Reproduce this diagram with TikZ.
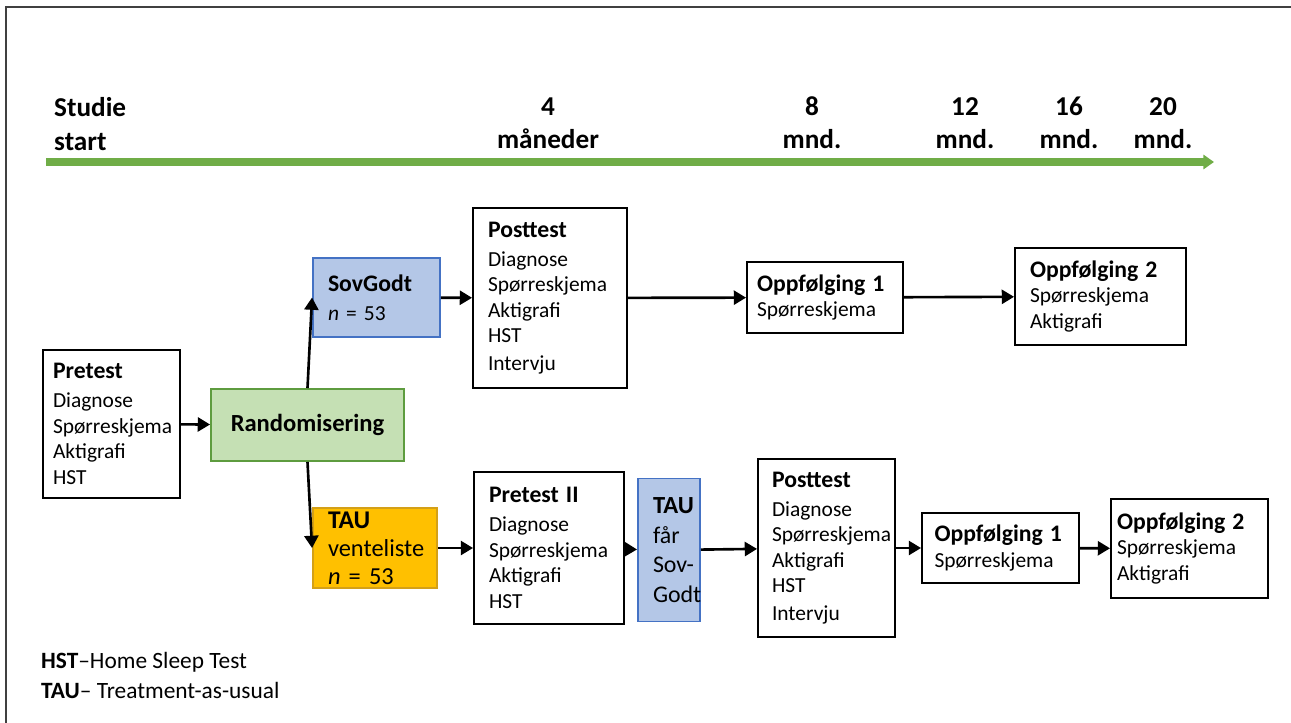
\documentclass[tikz,border=0pt]{standalone}
\usepackage{fontspec}
\setmainfont{Carlito}
\usetikzlibrary{arrows.meta, positioning}
\definecolor{barGreen}{HTML}{70AD47}
\definecolor{randFill}{HTML}{C5E0B4}
\definecolor{randLine}{HTML}{5E9C3F}
\definecolor{sovFill}{HTML}{B4C7E7}
\definecolor{sovLine}{HTML}{4472C4}
\definecolor{tauFill}{HTML}{FFC000}
\definecolor{tauLine}{HTML}{D4A017}
\newcommand{\ttl}[1]{{\fontsize{13.5}{16}\selectfont\bfseries #1}}

\begin{document}
\begin{tikzpicture}[x=0.02cm, y=-0.02cm,
            stage/.style={draw, line width=1.1pt, align=left, inner xsep=0.3cm, inner ysep=0pt, font=\fontsize{12.2}{14.5}\selectfont},
            flow/.style={-{Triangle[length=7pt, width=8pt]}, line width=1.5pt},
            tick/.style={font=\fontsize{15.5}{19}\selectfont\bfseries, align=center},
            legend/.style={anchor=west, font=\fontsize{13.3}{16}\selectfont}]

            \useasboundingbox (0,0) rectangle (1291,723);
            \draw[line width=1.2pt, black!75] (6,723) -- (6,7) -- (1291,7);

            \coordinate (tlstart) at (46,162);
            \coordinate (tlend) at (1214,162);
            \draw[-{Triangle[length=6pt, width=8pt]}, line width=4pt, barGreen] (tlstart) -- (tlend);
            \node[tick, align=left, anchor=west] (t0) at (48,124) {Studie\\start};
            \node[tick] (t4) at (548,123) {4\\måneder};
            \node[tick] (t8) at (812,123) {8\\mnd.};
            \node[tick] (t12) at (965,123) {12\\mnd.};
            \node[tick] (t16) at (1069,123) {16\\mnd.};
            \node[tick] (t20) at (1163,123) {20\\mnd.};

            \node[stage, inner xsep=0.2cm, text width=2.34cm, minimum height=2.96cm] (pre) at (111.5,424)
                {\ttl{Pretest}\\[2pt] Diagnose\\ Spørreskjema\\ Aktigrafi\\ HST};
            \node[stage, draw=randLine, fill=randFill, align=center, minimum width=3.86cm, minimum height=1.44cm] (rand) at (307.5,425)
                {\fontsize{14}{16}\selectfont\bfseries Randomisering};
            \draw[flow] (pre) -- (rand);

            \node[stage, draw=sovLine, fill=sovFill, text width=1.94cm, minimum height=1.58cm] (sov) at (376.5,297.5)
                {\ttl{SovGodt}\\[2pt] \textit{n} = 53};
            \node[stage, draw=tauLine, fill=tauFill, text width=1.88cm, minimum height=1.6cm, font=\fontsize{13.9}{16}\selectfont] (tau) at (375,548)
                {{\fontsize{14.5}{16}\selectfont\bfseries TAU}\\ venteliste\\ \textit{n} = 53};
            \draw[flow] (rand.north) -- (sov.west);
            \draw[flow] (rand.south) -- (tau.west);

            \node[stage, text width=2.48cm, minimum height=3.6cm] (post1) at (550,298)
                {\ttl{Posttest}\\[2pt] Diagnose\\ Spørreskjema\\ Aktigrafi\\ HST\\[1pt] Intervju};
            \node[stage, inner xsep=0.2cm, text width=2.72cm, minimum height=1.42cm] (fua) at (825,297.5)
                {\ttl{Oppfølging 1}\\ Spørreskjema};
            \node[stage, text width=2.82cm, minimum height=1.94cm] (fub) at (1100.5,296.5)
                {\ttl{Oppfølging 2}\\ Spørreskjema\\ Aktigrafi};
            \draw[flow] (sov) -- (post1);
            \draw[flow] (post1) -- (fua);
            \draw[flow] (fua) -- (fub);

            \node[stage, text width=2.4cm, minimum height=3.04cm] (pre2) at (549,548)
                {\ttl{Pretest II}\\[2pt] Diagnose\\ Spørreskjema\\ Aktigrafi\\ HST};
            \node[stage, draw=sovLine, fill=sovFill, text width=0.64cm, minimum height=2.86cm, font=\fontsize{13.6}{16.8}\selectfont] (taugets) at (669,550)
                {{\fontsize{14}{16}\selectfont\bfseries TAU}\\ får\\ \mbox{Sov-}\\ Godt};
            \node[stage, inner xsep=0.28cm, text width=2.18cm, minimum height=3.56cm] (post2) at (826.5,548)
                {\ttl{Posttest}\\[2pt] Diagnose\\ Spørreskjema\\ Aktigrafi\\ HST\\[1pt] Intervju};
            \node[stage, inner xsep=0.25cm, text width=2.64cm, minimum height=1.4cm] (fuc) at (1000.5,548)
                {\ttl{Oppfølging 1}\\ Spørreskjema};
            \node[stage, inner xsep=0.12cm, text width=2.9cm, minimum height=1.98cm] (fud) at (1189.5,548.5)
                {\ttl{Oppfølging 2}\\ Spørreskjema\\ Aktigrafi};
            \draw[flow] (tau) -- (pre2);
            \draw[flow] (pre2) -- (taugets);
            \draw[flow] (taugets) -- (post2);
            \draw[flow] (post2) -- (fuc);
            \draw[flow] (fuc) -- (fud);

            \node[legend] (lghst) at (35,662) {\textbf{HST}–Home Sleep Test};
            \node[legend] (lgtau) at (35,690) {\textbf{TAU}– Treatment-as-usual};

        \end{tikzpicture}
\end{document}
